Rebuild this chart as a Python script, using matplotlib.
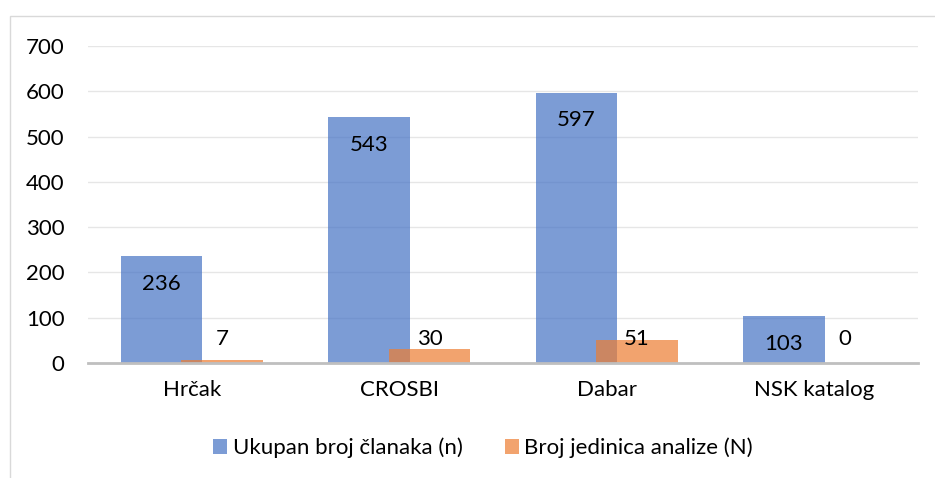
import matplotlib
matplotlib.use("Agg")
import matplotlib.pyplot as plt
from matplotlib.patches import Rectangle
import numpy as np

categories = ["Hrčak", "CROSBI", "Dabar", "NSK katalog"]
ukupan = [236, 543, 597, 103]
jedinice = [7, 30, 51, 0]
series_names = ["Ukupan broj članaka (n)", "Broj jedinica analize (N)"]
y_ticks = [0, 100, 200, 300, 400, 500, 600, 700]

plt.rcParams["font.family"] = ["Lato", "DejaVu Sans"]
FS = 16

fig = plt.figure(figsize=(9.35, 4.78), dpi=100)
ax = fig.add_axes([88 / 935, 1 - 363 / 478, 830 / 935, (363 - 46) / 478])

# light frame around the chart area
fig.add_artist(Rectangle((10 / 935, -0.2), 1.2, 1 - 16 / 478 + 0.2,
                         transform=fig.transFigure, fill=False,
                         edgecolor="#D9D9D9", linewidth=1.0))

x = np.arange(len(categories))
w = 0.392
off = 0.146

b1 = ax.bar(x - off, ukupan, w, color="#4472C4", alpha=0.7, label=series_names[0], zorder=2)
b2 = ax.bar(x + off, jedinice, w, color="#ED7D31", alpha=0.7, label=series_names[1], zorder=3)

for xi, v in zip(x, ukupan):
    ax.annotate(str(v), (xi - off, v), xytext=(0, -20), textcoords="offset points",
                ha="center", va="center", fontsize=FS, color="black", zorder=4)
# orange labels sit on one common line just above the small bars
label_level = 53
for xi, v in zip(x, jedinice):
    ax.text(xi + off, max(v, label_level), str(v), ha="center", va="center",
            fontsize=FS, color="black", zorder=4)

ax.set_xlim(-0.5, 3.5)
ax.set_ylim(0, 700)
ax.set_yticks(y_ticks)
ax.set_xticks(x)
ax.set_xticklabels(categories)
ax.tick_params(axis="y", length=0, pad=17, labelsize=FS)
ax.tick_params(axis="x", length=0, pad=12, labelsize=FS)

ax.grid(axis="y", color="#E6E6E6", linewidth=1.0, zorder=0)
ax.set_axisbelow(True)
for s in ["top", "right", "left"]:
    ax.spines[s].set_visible(False)
ax.spines["bottom"].set_color("#BFBFBF")
ax.spines["bottom"].set_linewidth(2.0)
ax.spines["bottom"].set_zorder(5)

fig.legend(handles=[b1, b2], labels=series_names, loc="center",
           bbox_to_anchor=(483 / 935, 1 - 448 / 478), ncol=2, frameon=False,
           fontsize=FS, handlelength=0.63, handleheight=0.63, handletextpad=0.25,
           columnspacing=1.9)

fig.savefig("out.png", dpi=100)
